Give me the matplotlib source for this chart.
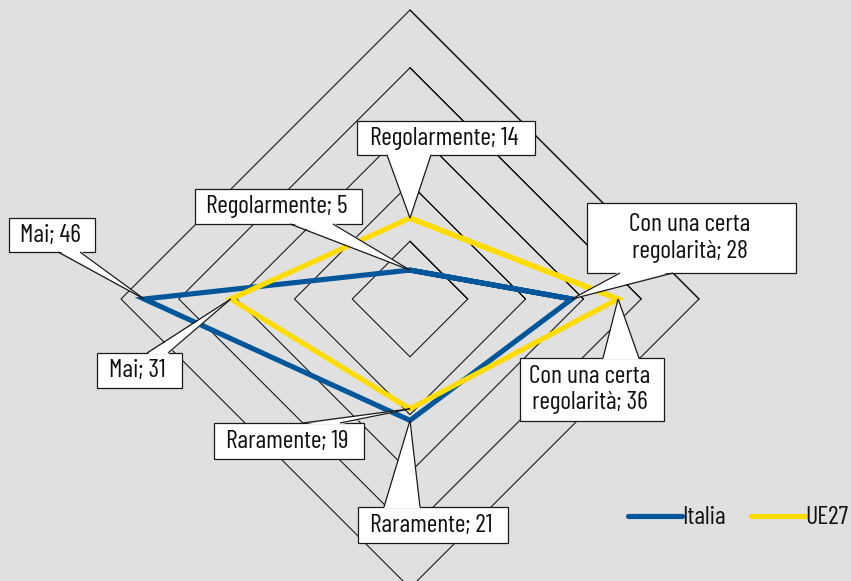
import matplotlib
matplotlib.use("Agg")
import matplotlib.pyplot as plt
from matplotlib.patches import Polygon, Rectangle
import numpy as np

categories = ["Regolarmente", "Con una certa\nregolarità", "Raramente", "Mai"]
italia = [5, 28, 21, 46]
ue27 = [14, 36, 19, 31]
series_names = ["Italia", "UE27"]
grid_levels = [10, 20, 30, 40, 50]

plt.rcParams['font.family'] = ['Barlow Condensed', 'Barlow Semi Condensed', 'DejaVu Sans']

BG = "#e0e0e0"
BLUE = "#00569b"
YELLOW = "#ffdc00"
EDGE = "#1a1a1a"
FS = 18.5

W, H = 851, 581
fig = plt.figure(figsize=(W / 100, H / 100), dpi=100, facecolor=BG)
ax = fig.add_axes([0, 0, 1, 1])
ax.set_facecolor(BG)

# chart centre (pixels) and pixels per unit
cx, cy, scale = 410, 299, 289 / 50.0
ax.set_xlim(-cx / scale, (W - cx) / scale)
ax.set_ylim(-(H - cy) / scale, cy / scale)
ax.set_aspect('equal')
ax.axis('off')

angles = np.array([90, 0, 270, 180]) * np.pi / 180.0  # top, right, bottom, left


def to_xy(vals):
    v = np.asarray(vals, dtype=float)
    return v * np.cos(angles), v * np.sin(angles)


def closed(x, y):
    # wrap around past the start so every corner is joined
    return np.append(x, x[:2]), np.append(y, y[:2])


for g in grid_levels:
    gx, gy = closed(*to_xy([g] * 4))
    ax.plot(gx, gy, color=EDGE, lw=0.8, zorder=1, solid_joinstyle='miter')

handles = []
for vals, col, name in [(italia, BLUE, series_names[0]), (ue27, YELLOW, series_names[1])]:
    x, y = closed(*to_xy(vals))
    ln, = ax.plot(x, y, color=col, lw=3.7, zorder=3, label=name,
                  solid_joinstyle='miter', solid_capstyle='round')
    handles.append(ln)


def px(x, y):
    return ((x - cx) / scale, (cy - y) / scale)


# callout layout in pixels: box (x0, y0, x1, y1), base points on the box edge
layout_italia = [
    dict(box=(195, 189, 362, 224), base=((290, 224), (333, 224))),
    dict(box=(587, 203, 796, 273), base=((620, 273), (673, 273))),
    dict(box=(358, 507, 508, 543), base=((384, 507), (420, 507))),
    dict(box=(9, 218, 95, 252), base=((58, 252), (80, 252))),
]
layout_ue = [
    dict(box=(357, 121, 535, 155), base=((387, 155), (431, 155))),
    dict(box=(520, 358, 664, 421), base=((603, 358), (639, 358))),
    dict(box=(214, 423, 364, 459), base=((303, 423), (340, 423))),
    dict(box=(97, 353, 182, 388), base=((147, 353), (168, 353))),
]

for vals, lay in [(italia, layout_italia), (ue27, layout_ue)]:
    xs, ys = to_xy(vals)
    for i, cat in enumerate(categories):
        x0, y0, x1, y1 = lay[i]['box']
        (ax_, ay_), (bx_, by_) = lay[i]['base']
        tip = (xs[i], ys[i])
        ax.add_patch(Rectangle(px(x0, y1), (x1 - x0) / scale, (y1 - y0) / scale,
                               fc='white', ec=EDGE, lw=0.9, zorder=5))
        cyb = (y0 + y1) / 2
        d = 1.5 if ay_ > cyb else -1.5
        fill_pts = [px(ax_, ay_ - d), tip, px(bx_, by_ - d)]
        ax.add_patch(Polygon(fill_pts, closed=True, fc='white', ec='none', zorder=6))
        for p in [(ax_, ay_), (bx_, by_)]:
            q = px(*p)
            ax.plot([q[0], tip[0]], [q[1], tip[1]], color=EDGE, lw=0.9, zorder=6,
                    solid_capstyle='butt')
        txt = f"{cat}; {vals[i]}"
        tx, ty = px((x0 + x1) / 2 - 2, (y0 + y1) / 2)
        ax.text(tx, ty, txt, ha='center', va='center', fontsize=FS, linespacing=1.2,
                zorder=7, color='#111111')

leg = ax.legend(handles=handles, loc='center right',
                bbox_to_anchor=(848 / W, 1 - 518 / H), bbox_transform=fig.transFigure,
                ncol=2, frameon=False, fontsize=FS, handlelength=2.1,
                handletextpad=0.0, columnspacing=1.0, borderpad=0, borderaxespad=0)
for t in leg.get_texts():
    t.set_color('#111111')

fig.savefig("out.png", dpi=100, facecolor=BG)
